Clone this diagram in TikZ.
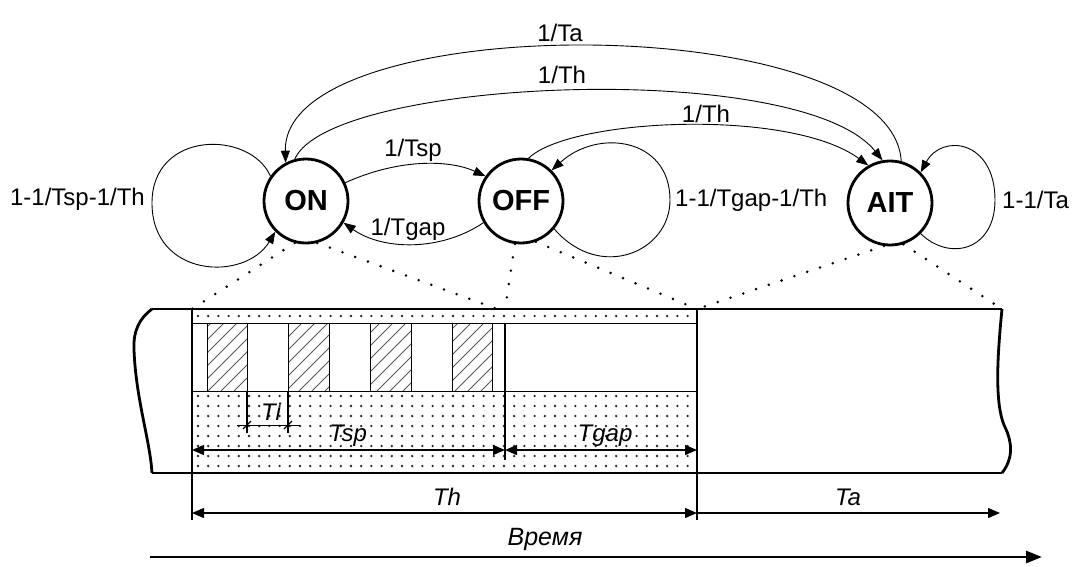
\documentclass[tikz,border=0pt]{standalone}
\usepackage{fontspec}
\setmainfont{Liberation Sans}
\usetikzlibrary{arrows.meta}
\begin{document}
\begin{tikzpicture}[x=1pt,y=-1pt,
  state/.style={circle,draw,line width=2.8pt,minimum size=84pt,inner sep=0pt,font=\fontsize{29}{32}\selectfont\bfseries},
  edge/.style={line width=0.9pt,-{Triangle[length=12pt,width=9pt]}},
  lbl/.style={font=\fontsize{24}{27}\selectfont,inner sep=1pt},
  ilbl/.style={font=\fontsize{24}{27}\selectfont\itshape,inner sep=1pt},
  proj/.style={line width=2.8pt,line cap=round,dash pattern=on 0pt off 13.5pt},
  frame/.style={line width=2.8pt},
  thinl/.style={line width=1pt},
  dim/.style={line width=1.4pt,{Triangle[length=12pt,width=10pt]}-{Triangle[length=12pt,width=10pt]}},
  dimr/.style={line width=1.4pt,-{Triangle[length=12pt,width=10pt]}},
  hatch/.style={line width=0.9pt,black!65},
  dotc/.style={black!85}]
\useasboundingbox (0,0) rectangle (1077,566);

% ---------- states ----------
\node[state] (ON) at (306,201) {ON};
\node[state] (OFF) at (521,201) {OFF};
\node[state] (AIT) at (890,203) {AIT};

% ---------- transitions ----------
\draw[edge] (ON.145) .. controls (250,130) and (152,130) .. (152,203)
            .. controls (152,278) and (245,282) .. (ON.225);
\draw[edge] (ON.25) .. controls (400,158) and (450,160) .. (OFF.145);
\draw[edge] (OFF.210) .. controls (440,252) and (382,250) .. (ON.330);
\draw[edge] (OFF.320) .. controls (600,282) and (670,252) .. (670,200)
            .. controls (670,138) and (598,128) .. (OFF.45);
\draw[edge] (OFF.80) .. controls (570,118) and (790,108) .. (AIT.120);
\draw[edge] (ON.105) .. controls (330,78) and (800,58) .. (AIT.100);
\draw[edge] (AIT.75) .. controls (892,8) and (282,8) .. (ON.118);
\draw[edge] (AIT.315) .. controls (950,262) and (995,250) .. (995,200)
            .. controls (995,140) and (942,133) .. (AIT.45);

\node[lbl] (lTa) at (560,33) {1/Ta};
\node[lbl] (lTh1) at (562,75) {1/Th};
\node[lbl] (lTh2) at (706,114) {1/Th};
\node[lbl] (lTsp) at (413,150) {1/Tsp};
\node[lbl] (lTgap) at (408,229) {1/Tgap};
\node[lbl,anchor=east] (lON) at (146,199) {1-1/Tsp-1/Th};
\node[lbl,anchor=west] (lOFF) at (674,200) {1-1/Tgap-1/Th};
\node[lbl,anchor=west] (lAIT) at (1001,200) {1-1/Ta};

% ---------- projection corners ----------
\coordinate (pA) at (192,309);
\coordinate (pB) at (497,309);
\coordinate (pC) at (505,309);
\coordinate (pD) at (697,309);
\coordinate (pE) at (1002,309);

% ---------- dotted fill ----------
\foreach \i in {0,...,48} {
  \fill[dotc] (198+\i*10.2,316) circle (1.3);
  \foreach \y in {396,406,...,466} \fill[dotc] (198+\i*10.2,\y) circle (1.3);
}

% ---------- pulse row ----------
\fill[white] (193,323) rectangle (696,391);
\begin{scope}
\clip (207,323) rectangle (247,391) (288,323) rectangle (329,391)
      (370,323) rectangle (411,391) (452,323) rectangle (492,391);
\foreach \k in {130,143,...,520} \draw[hatch] (\k,391) -- (\k+68,323);
\end{scope}
\foreach \a/\b in {207/247,288/329,370/411,452/492}
  \draw[thinl] (\a,323) rectangle (\b,391);
\draw[thinl] (192,323) -- (697,323);
\draw[thinl] (192,391) -- (697,391);

% ---------- frame ----------
\draw[frame] (152,309) -- (1002,309);
\draw[frame] (152,473) -- (1002,473);
\draw[frame] (152,309) .. controls (140,318) and (133,330) .. (134,350)
             .. controls (136,400) and (150,440) .. (152,473);
\draw[frame] (1002,309) .. controls (998,350) and (994,400) .. (1004,425)
             .. controls (1014,445) and (1012,460) .. (1002,473);
\draw[frame] (192,309) -- (192,520);
\draw[frame] (697,309) -- (697,520);
\draw[frame] (505,323) -- (505,460);

% ---------- projections ----------
\draw[proj] (ON.255) -- (pA);
\draw[proj] (ON.285) -- (pB);
\draw[proj] (OFF.262) -- (pC);
\draw[proj] (OFF.290) -- (pD);
\draw[proj] (AIT.262) -- (pD);
\draw[proj] (AIT.288) -- (pE);

% ---------- Ti ----------
\draw[frame] (247,391) -- (247,433);
\draw[frame] (288,391) -- (288,433);
\draw[thinl] (237,425) -- (300,425);
\draw[line width=1.2pt] (243,429) -- (251,421);
\draw[line width=1.2pt] (284,429) -- (292,421);
\node[ilbl] (lTi) at (271,412) {Ti};

% ---------- dimensions ----------
\coordinate (d1) at (192,450);
\coordinate (d2) at (505,450);
\coordinate (d3) at (697,450);
\coordinate (d4) at (192,513);
\coordinate (d5) at (697,513);
\coordinate (d6) at (1000,513);
\coordinate (t1) at (150,557);
\coordinate (t2) at (1042,557);
\draw[dim] (d1) -- (d2);
\draw[dim] (d2) -- (d3);
\draw[dim] (d4) -- (d5);
\draw[dimr] (d5) -- (d6);
\draw[line width=2.8pt,-{Triangle[length=16pt,width=12pt]}] (t1) -- (t2);
\node[ilbl] (lTsp2) at (348,436) {Tsp};
\node[ilbl] (lTgap2) at (605,436) {Tgap};
\node[ilbl] (lTh) at (447,497) {Th};
\node[ilbl] (lTa2) at (848,497) {Ta};
\node[ilbl,font=\fontsize{25}{28}\selectfont\itshape] (lTime) at (545,539) {Время};
\end{tikzpicture}
\end{document}
